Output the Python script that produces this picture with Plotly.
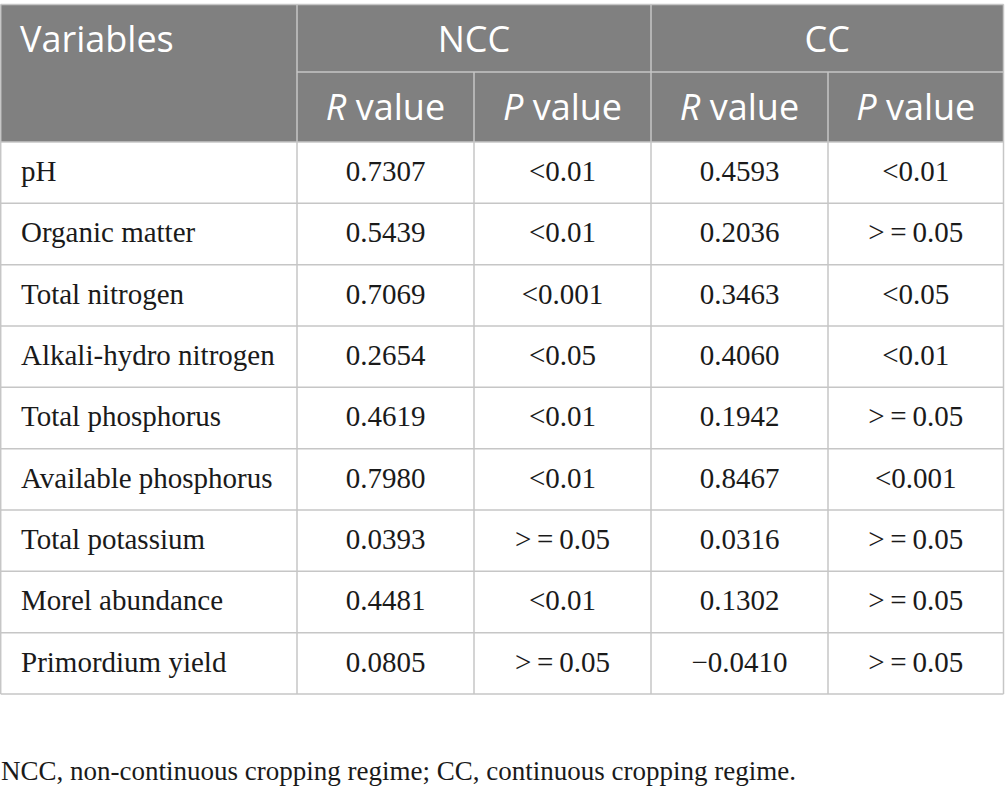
import plotly.graph_objects as go

# ---------------- data ----------------
variables = ["pH", "Organic matter", "Total nitrogen", "Alkali-hydro nitrogen",
             "Total phosphorus", "Available phosphorus", "Total potassium",
             "Morel abundance", "Primordium yield"]
ncc_r = ["0.7307", "0.5439", "0.7069", "0.2654", "0.4619", "0.7980", "0.0393", "0.4481", "0.0805"]
ncc_p = ["<0.01", "<0.01", "<0.001", "<0.05", "<0.01", "<0.01", ">\u2009=\u20090.05", "<0.01", ">\u2009=\u20090.05"]
cc_r = ["0.4593", "0.2036", "0.3463", "0.4060", "0.1942", "0.8467", "0.0316", "0.1302", "\u22120.0410"]
cc_p = ["<0.01", ">\u2009=\u20090.05", "<0.05", "<0.01", ">\u2009=\u20090.05", "<0.001",
        ">\u2009=\u20090.05", ">\u2009=\u20090.05", ">\u2009=\u20090.05"]
group_labels = ["NCC", "CC"]
sub_labels = ["<i>R</i> value", "<i>P</i> value", "<i>R</i> value", "<i>P</i> value"]
first_header = "Variables"
footnote = "NCC, non-continuous cropping regime; CC, continuous cropping regime."

# ---------------- layout geometry ----------------
W, H = 1005, 796
col_x = [0.7, 297, 474, 651, 828, 1003.5]
top_y = 4.5
hdr_mid_y = 72
hdr_bot_y = 142
row_h = (694 - 142) / 9
row_y = [hdr_bot_y + i * row_h for i in range(len(variables) + 1)]
bot_y = row_y[-1]

HDR_BG = "#808080"
LINE = "#c6c6c6"
LW = 1.5
SERIF = "Liberation Serif"
SANS = "Open Sans"
HDR_SIZE = 36
BODY_SIZE = 29
NOTE_SIZE = 27
TXT = "#1a1a1a"


def esc(s):
    return s.replace("<", "&lt;").replace(">", "&gt;")


fig = go.Figure()

shapes = []
# header background
shapes.append(dict(type="rect", xref="x", yref="y", x0=col_x[0], x1=col_x[-1],
                   y0=top_y, y1=hdr_bot_y, fillcolor=HDR_BG, line=dict(width=0), layer="below"))


def hline(x0, x1, y):
    shapes.append(dict(type="line", xref="x", yref="y", x0=x0, x1=x1, y0=y, y1=y,
                       line=dict(color=LINE, width=LW)))


def vline(x, y0, y1):
    shapes.append(dict(type="line", xref="x", yref="y", x0=x, x1=x, y0=y0, y1=y1,
                       line=dict(color=LINE, width=LW)))


hline(col_x[0], col_x[-1], top_y)
hline(col_x[1], col_x[-1], hdr_mid_y)
for y in row_y:
    hline(col_x[0], col_x[-1], y)
vline(col_x[0], top_y, bot_y)
vline(col_x[1], top_y, bot_y)
vline(col_x[2], hdr_mid_y, bot_y)
vline(col_x[3], top_y, bot_y)
vline(col_x[4], hdr_mid_y, bot_y)
vline(col_x[5], top_y, bot_y)

# header texts
hdr_font = dict(family=SANS, size=HDR_SIZE, color="white")
hdr1_y = (top_y + hdr_mid_y) / 2 + 5
hdr2_y = (hdr_mid_y + hdr_bot_y) / 2 + 4
fig.add_trace(go.Scatter(x=[20], y=[hdr1_y], mode="text",
                         text=[first_header], textposition="middle right",
                         textfont=hdr_font, hoverinfo="skip", showlegend=False))
grp_cx = [(col_x[1] + col_x[3]) / 2, (col_x[3] + col_x[5]) / 2]
fig.add_trace(go.Scatter(x=grp_cx, y=[hdr1_y] * 2, mode="text",
                         text=group_labels, textposition="middle center",
                         textfont=hdr_font, hoverinfo="skip", showlegend=False))
sub_cx = [(col_x[i] + col_x[i + 1]) / 2 for i in range(1, 5)]
fig.add_trace(go.Scatter(x=sub_cx, y=[hdr2_y] * 4, mode="text",
                         text=sub_labels, textposition="middle center",
                         textfont=hdr_font, hoverinfo="skip", showlegend=False))

# body
body_font = dict(family=SERIF, size=BODY_SIZE, color=TXT)
row_cy = [(row_y[i] + row_y[i + 1]) / 2 + 1 for i in range(len(variables))]
fig.add_trace(go.Scatter(x=[21] * len(variables), y=row_cy, mode="text",
                         text=variables, textposition="middle right",
                         textfont=body_font, hoverinfo="skip", showlegend=False))
for ci, col in enumerate([ncc_r, ncc_p, cc_r, cc_p]):
    fig.add_trace(go.Scatter(x=[sub_cx[ci]] * len(col), y=row_cy, mode="text",
                             text=[esc(s) for s in col], textposition="middle center",
                             textfont=body_font, hoverinfo="skip", showlegend=False))

# footnote
fig.add_trace(go.Scatter(x=[1], y=[773], mode="text", text=[footnote],
                         textposition="middle right",
                         textfont=dict(family=SERIF, size=NOTE_SIZE, color=TXT),
                         hoverinfo="skip", showlegend=False))

fig.update_layout(
    width=W, height=H, margin=dict(l=0, r=0, t=0, b=0),
    paper_bgcolor="white", plot_bgcolor="white",
    shapes=shapes, showlegend=False,
    xaxis=dict(range=[0, W], visible=False, fixedrange=True),
    yaxis=dict(range=[H, 0], visible=False, fixedrange=True),
)

fig.write_html("out.html", config={"displayModeBar": False},
               post_script="document.body.style.margin='0px';document.body.style.overflow='hidden';")
